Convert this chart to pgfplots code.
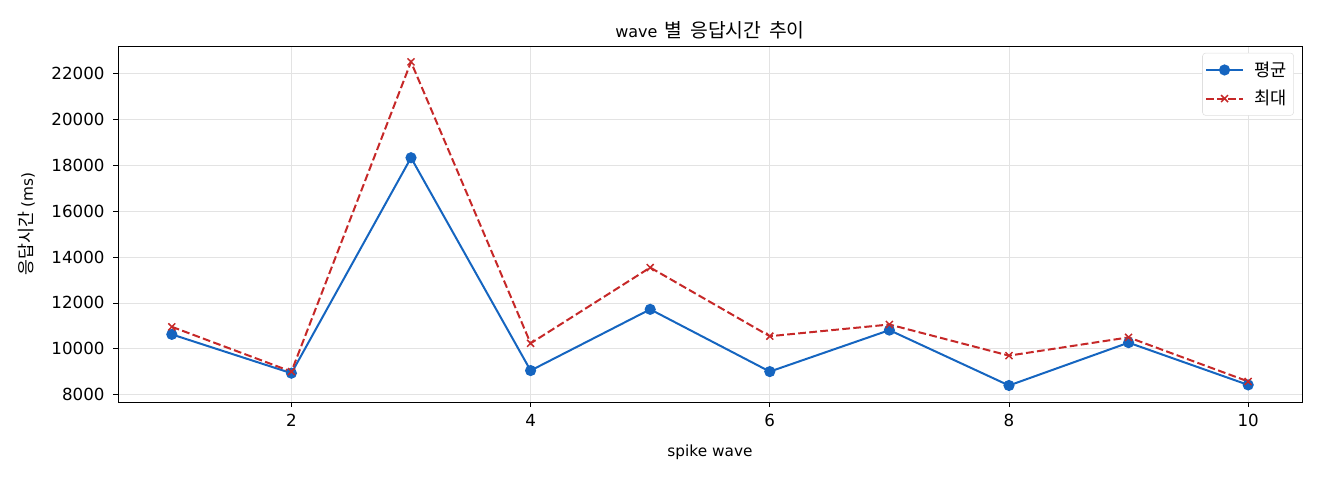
\documentclass[border=0pt]{standalone}
\usepackage{fontspec}
\setmainfont{DejaVu Sans}
\newfontfamily\kr{Noto Sans CJK KR}
\usepackage{pgfplots}
\pgfplotsset{compat=1.18}

\definecolor{avgblue}{HTML}{1565C0}
\definecolor{maxred}{HTML}{C62828}
\definecolor{gridgray}{HTML}{E3E3E3}

\begin{document}
\begin{tikzpicture}
\begin{axis}[
    scale only axis,
    width=888pt, height=267pt,
    xmin=0.55, xmax=10.45,
    ymin=7686, ymax=23184,
    xtick={2,4,6,8,10},
    ytick={8000,10000,...,22000},
    scaled y ticks=false,
    /pgf/number format/.cd, 1000 sep={}, assume math mode=true,
    /pgfplots/.cd,
    tick align=outside,
    tick pos=left,
    major tick length=3.6pt,
    tick style={black, line width=0.6pt},
    ticklabel style={font=\fontsize{12.5}{14}\selectfont},
    xticklabel style={yshift=-2pt},
    yticklabel style={xshift=-3pt},
    grid=major,
    major grid style={gridgray, line width=0.6pt},
    axis line style={line width=0.6pt},
    title={wave\hspace{0.45em}{\kr\fontsize{14.5}{16}\selectfont 별\hspace{0.4em}응답시간\hspace{0.4em}추이}},
    title style={font=\fontsize{12}{14}\selectfont, at={(axis description cs:0.5,1.045)}, anchor=center, yshift=-6.5pt},
    xlabel={spike wave},
    ylabel={{\kr\fontsize{13}{14}\selectfont 응답시간} (ms)},
    label style={font=\fontsize{11.5}{13}\selectfont},
    xlabel style={at={(axis description cs:0.5,-0.14)}, anchor=center},
    ylabel style={at={(axis description cs:-0.077,0.5)}, anchor=center},
    legend cell align=left,
    legend image code/.code={\draw[mark repeat=2,mark phase=2] plot coordinates {(0pt,0pt)(13.8pt,0pt)(27.6pt,0pt)};},
    legend style={font=\fontsize{13.2}{14}\selectfont\kr, draw=gray!25, rounded corners=2.5pt,
        inner xsep=2pt, inner ysep=4.5pt, row sep=5pt,
        nodes={inner xsep=3pt, inner ysep=2pt},
        /tikz/every odd column/.append style={column sep=5pt},
        at={(axis description cs:0.9932,0.981)}, anchor=north east},
]
\addplot[avgblue, line width=1.5pt, mark=*, mark size=3.4pt, mark options={solid}]
coordinates {
  (1,10630) (2,8940) (3,18320) (4,9055) (5,11720)
  (6,9010) (7,10815) (8,8405) (9,10270) (10,8430)
};
\addlegendentry{평균}
\addplot[maxred, line width=1.5pt, dash pattern=on 5.8pt off 2.5pt, mark=x, mark size=3.7pt, mark options={solid, line width=1.1pt}]
coordinates {
  (1,10960) (2,9010) (3,22490) (4,10240) (5,13540)
  (6,10550) (7,11060) (8,9705) (9,10500) (10,8580)
};
\addlegendentry{최대}
\end{axis}
\path (current axis.south west) ++(-88.5pt,-58.5pt) rectangle ++(990pt,360pt);
\end{tikzpicture}
\end{document}
